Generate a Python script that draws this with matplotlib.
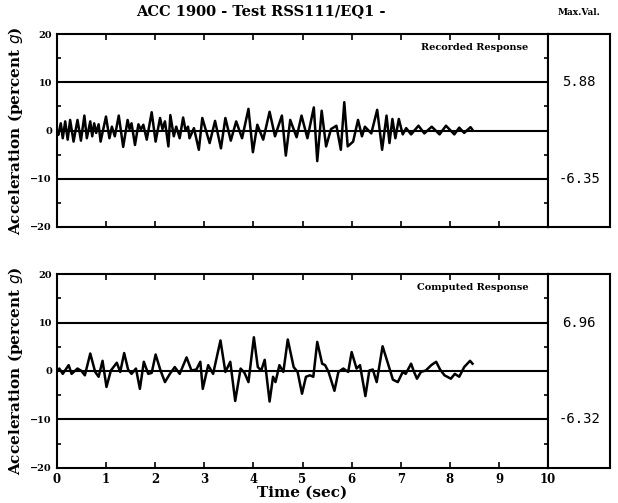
import numpy as np
import matplotlib.pyplot as plt
from matplotlib.ticker import MultipleLocator

# Recorded response: (time [s], acceleration [% g]) read at peaks / troughs
rec_t = [0.00, 0.03, 0.08, 0.12, 0.17, 0.22, 0.27, 0.34, 0.42, 0.49, 0.56, 0.61,
         0.68, 0.72, 0.76, 0.80, 0.85, 0.89, 1.00, 1.07, 1.12, 1.18, 1.26, 1.35,
         1.44, 1.48, 1.52, 1.59, 1.66, 1.71, 1.76, 1.83, 1.93, 2.01, 2.10, 2.15,
         2.20, 2.27, 2.31, 2.38, 2.43, 2.50, 2.57, 2.62, 2.67, 2.70, 2.79, 2.89,
         2.96, 3.11, 3.22, 3.34, 3.43, 3.54, 3.65, 3.77, 3.90, 3.99, 4.08, 4.20,
         4.33, 4.44, 4.58, 4.66, 4.75, 4.88, 4.98, 5.10, 5.23, 5.30, 5.39, 5.48,
         5.58, 5.69, 5.78, 5.85, 5.92, 6.03, 6.13, 6.21, 6.27, 6.40, 6.52, 6.62,
         6.71, 6.77, 6.83, 6.89, 6.96, 7.04, 7.11, 7.21, 7.36, 7.48, 7.63, 7.79,
         7.92, 8.09, 8.19, 8.29, 8.42, 8.47]
rec_a = [0.0, -0.9, 1.5, -1.6, 1.9, -1.9, 2.2, -2.3, 2.2, -2.1, 3.1, -1.6,
         1.9, -1.2, 1.5, -0.5, 1.3, -2.3, 2.9, -1.6, 0.8, -1.2, 3.1, -3.4,
         2.2, 0.3, 1.5, -3.0, 1.3, 0.2, 1.2, -1.9, 3.8, -2.3, 2.6, 0.3,
         1.9, -3.3, 3.2, -1.2, 0.8, -1.6, 2.7, 0.0, 0.8, -1.6, 0.5, -4.0,
         2.6, -2.6, 2.0, -3.7, 2.6, -2.1, 1.9, -1.6, 4.5, -4.5, 1.2, -1.9,
         3.9, -1.2, 3.1, -5.2, 2.2, -1.4, 3.1, -1.6, 4.8, -6.35, 4.1, -3.3,
         0.3, 1.0, -4.0, 5.88, -3.3, -2.3, 2.2, -1.2, 0.8, -0.6, 4.3, -4.0,
         3.1, -2.6, 2.4, -1.6, 2.4, -0.8, 0.5, -0.8, 1.0, -0.6, 0.8, -0.8,
         1.0, -0.8, 0.6, -0.5, 0.7, 0.0]

# Computed response
cmp_t = [0.00, 0.05, 0.12, 0.24, 0.30, 0.42, 0.50, 0.57, 0.68, 0.78, 0.85, 0.93,
         1.01, 1.10, 1.22, 1.29, 1.37, 1.45, 1.52, 1.61, 1.69, 1.77, 1.86, 1.93,
         2.01, 2.11, 2.20, 2.30, 2.40, 2.50, 2.64, 2.74, 2.84, 2.92, 2.97, 3.08,
         3.18, 3.33, 3.43, 3.53, 3.63, 3.74, 3.82, 3.90, 4.01, 4.09, 4.16, 4.23,
         4.33, 4.40, 4.45, 4.53, 4.61, 4.70, 4.82, 4.90, 4.99, 5.07, 5.15, 5.22,
         5.30, 5.40, 5.46, 5.53, 5.65, 5.73, 5.83, 5.93, 6.00, 6.10, 6.17, 6.28,
         6.36, 6.43, 6.51, 6.63, 6.74, 6.84, 6.94, 7.04, 7.10, 7.21, 7.27, 7.33,
         7.41, 7.51, 7.62, 7.72, 7.80, 7.89, 8.02, 8.10, 8.19, 8.29, 8.41, 8.46]
cmp_a = [0.0, 0.5, -0.6, 1.2, -0.6, 0.5, 0.0, -0.9, 3.6, -0.2, -1.2, 2.1,
         -3.3, 0.1, 1.7, -0.2, 3.7, 0.3, -0.6, 0.5, -3.7, 1.9, -0.6, -0.4,
         3.4, 0.1, -2.3, -0.6, 0.8, -0.6, 2.8, 0.1, 0.3, 1.9, -3.7, 1.2,
         -0.6, 6.3, -0.2, 1.9, -6.2, 0.5, -0.4, -2.3, 6.96, 0.8, 0.1, 2.3,
         -6.32, -1.2, -2.3, 1.2, -0.2, 6.5, 0.8, -0.2, -4.7, -1.2, -0.9, -1.2,
         6.0, 1.5, 1.2, -0.2, -4.1, -0.2, 0.5, -0.2, 3.9, 0.5, 1.2, -5.2,
         0.1, 0.3, -2.3, 5.1, 1.5, -1.8, -2.3, -0.2, -0.6, 1.5, -0.2, -1.6,
         -0.2, 0.1, 1.2, 1.9, 0.3, -0.9, -1.6, -0.6, -1.2, 0.8, 2.1, 1.5]

panel_titles = ["Recorded Response", "Computed Response"]
max_vals = [("5.88", "-6.35"), ("6.96", "-6.32")]

fig = plt.figure(figsize=(6.18, 5.03), dpi=100)
bold = dict(family="DejaVu Serif", fontweight="bold")

# axes rectangles (figure fractions)
rects = [[0.092, 0.549, 0.795, 0.383], [0.092, 0.070, 0.795, 0.385]]
series = [(rec_t, rec_a), (cmp_t, cmp_a)]

for i, (rect, (t, a)) in enumerate(zip(rects, series)):
    ax = fig.add_axes(rect)
    ax.plot(t, a, color="black", linewidth=1.8, solid_joinstyle="round")
    for yy in (-10, 0, 10):
        ax.axhline(yy, color="black", linewidth=1.5)
    ax.set_xlim(0, 10)
    ax.set_ylim(-20, 20)
    ax.xaxis.set_major_locator(MultipleLocator(1))
    ax.yaxis.set_major_locator(MultipleLocator(10))
    ax.yaxis.set_minor_locator(MultipleLocator(5))
    ax.tick_params(which="both", direction="in", top=True, right=True,
                   width=1.2, labelsize=7)
    ax.tick_params(which="major", length=4)
    ax.tick_params(which="minor", length=3)
    for lab in ax.get_yticklabels():
        lab.set_fontfamily("DejaVu Serif")
        lab.set_fontweight("bold")
    for s in ax.spines.values():
        s.set_linewidth(1.5)
    ax.text(0.96, 0.93, panel_titles[i], transform=ax.transAxes,
            ha="right", va="center", fontsize=7, **bold)
    ax.set_ylabel(r"Acceleration (percent $\it{g}$)", fontsize=11,
                  labelpad=4, **bold)
    if i == 0:
        ax.set_xticklabels([])
    else:
        ax.set_xticks(range(11))
        ax.set_xticklabels([str(k) for k in range(11)], fontsize=8.5, **bold)
        ax.set_xlabel("Time (sec)", fontsize=11, labelpad=0, **bold)

    # max value box at the right
    bx = fig.add_axes([rect[0] + rect[2], rect[1], 0.100, rect[3]])
    bx.set_xlim(0, 1)
    bx.set_ylim(-20, 20)
    bx.set_xticks([])
    bx.set_yticks([])
    for s in bx.spines.values():
        s.set_linewidth(1.5)
    bx.text(0.5, 10, max_vals[i][0], ha="center", va="center",
            fontsize=10, family="DejaVu Sans Mono")
    bx.text(0.5, -10, max_vals[i][1], ha="center", va="center",
            fontsize=10, family="DejaVu Sans Mono")

fig.text(0.422, 0.978, "ACC 1900 - Test RSS111/EQ1 -", ha="center",
         va="center", fontsize=10.5, **bold)
fig.text(0.937, 0.975, "Max.Val.", ha="center", va="center", fontsize=6.5, **bold)

fig.savefig("out.png", dpi=100, facecolor="white")
